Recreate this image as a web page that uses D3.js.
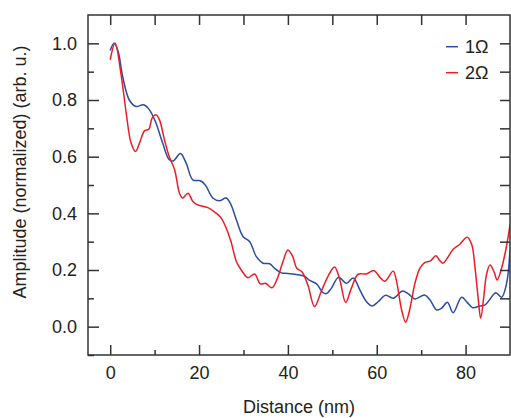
<!DOCTYPE html>
<html>
<head>
<meta charset="utf-8">
<script src="https://cdn.jsdelivr.net/npm/d3@7"></script>
<style>
  html, body { margin: 0; padding: 0; background: #fff; }
  svg { display: block; }
  text { font-family: "Liberation Sans", Arial, sans-serif; fill: #222; }
</style>
</head>
<body>
<svg id="chart" width="511" height="418"></svg>
<script>
// ---- data ----
const seriesNames = ["1Ω", "2Ω"];
const blueX = [0, 0.9, 1.8, 2.8, 4.3, 5.8, 7.5, 8.8, 10.3, 11.8, 13.3, 14.2, 15.8, 17.1, 18.6, 20.3, 21.4, 23.1, 24.6, 26.1, 27.2, 28.4, 29.9, 31.4, 32.9, 34.4, 35.9, 37, 38.5, 40, 42.6, 43.8, 44.9, 46.4, 47.9, 48.7, 49.8, 51.4, 53.2, 54.7, 56.2, 57.7, 59, 60.3, 62, 63.7, 65.8, 67.1, 68.6, 70.8, 72, 73.5, 74.6, 75.9, 77.2, 79.1, 80.4, 81.6, 83.2, 84.4, 85.5, 86.8, 88.1, 89.2, 90];
const blueY = [0.975, 1.0, 0.97, 0.883, 0.80, 0.777, 0.783, 0.766, 0.719, 0.648, 0.589, 0.585, 0.611, 0.577, 0.518, 0.515, 0.50, 0.454, 0.444, 0.454, 0.43, 0.377, 0.318, 0.30, 0.247, 0.224, 0.222, 0.206, 0.19, 0.188, 0.182, 0.177, 0.163, 0.152, 0.12, 0.117, 0.136, 0.174, 0.153, 0.172, 0.13, 0.088, 0.073, 0.088, 0.111, 0.100, 0.126, 0.116, 0.098, 0.112, 0.094, 0.059, 0.065, 0.086, 0.049, 0.104, 0.085, 0.067, 0.073, 0.077, 0.097, 0.12, 0.104, 0.15, 0.27];
const redX = [0, 1.1, 2.4, 3.6, 4.7, 5.7, 6.6, 7.7, 8.7, 9.4, 10.3, 11.1, 12.2, 13.3, 14.5, 15.6, 16.3, 17.5, 18.6, 19.7, 22, 23.9, 25, 26.1, 27.2, 28.4, 29.5, 31, 32.5, 33.8, 35, 36.4, 37.5, 38.9, 40, 41.1, 42, 43.2, 44.5, 46, 47.5, 49, 50.5, 51.7, 53, 54.3, 55.8, 57.7, 59.3, 60.7, 61.8, 63.7, 64.4, 65.6, 66.5, 67.4, 68.6, 69.7, 70.8, 72.1, 73.3, 74.2, 74.9, 76.1, 77.2, 78.7, 80.4, 81.4, 82.1, 82.8, 83.4, 84.1, 84.7, 85.5, 86.4, 87.1, 88.1, 89.2, 90];
const redY = [0.942, 1.0, 0.895, 0.754, 0.648, 0.618, 0.648, 0.691, 0.697, 0.735, 0.748, 0.73, 0.66, 0.60, 0.554, 0.471, 0.454, 0.471, 0.442, 0.43, 0.42, 0.40, 0.383, 0.348, 0.30, 0.23, 0.20, 0.173, 0.186, 0.151, 0.153, 0.137, 0.165, 0.23, 0.271, 0.247, 0.206, 0.193, 0.147, 0.071, 0.124, 0.177, 0.211, 0.165, 0.085, 0.136, 0.185, 0.186, 0.198, 0.175, 0.16, 0.196, 0.165, 0.059, 0.016, 0.059, 0.153, 0.206, 0.226, 0.232, 0.25, 0.233, 0.224, 0.247, 0.273, 0.291, 0.316, 0.289, 0.212, 0.106, 0.03, 0.106, 0.183, 0.218, 0.194, 0.165, 0.206, 0.283, 0.36];
const xMajorTicks = [0, 20, 40, 60, 80];
const xMinorTicks = [10, 30, 50, 70];
const xTopTicks = [0, 10, 20, 30, 40, 50, 60, 70, 80];
const yMajorTicks = [0.0, 0.2, 0.4, 0.6, 0.8, 1.0];
const yMinorTicks = [-0.1, 0.1, 0.3, 0.5, 0.7, 0.9];
const yRightTicks = [0.0, 0.1, 0.2, 0.3, 0.4, 0.5, 0.6, 0.7, 0.8, 0.9, 1.0];
const colors = ["#2b4ca3", "#ec1c24"];

// ---- layout ----
const L = 88, R = 510, T = 15, B = 355;
const svg = d3.select("#chart");
const x = d3.scaleLinear().domain([-5, 90]).range([L, R]);
const y = d3.scaleLinear().domain([-0.1, 1.1]).range([B, T]);

svg.append("defs").append("clipPath").attr("id", "clip")
  .append("rect").attr("x", L).attr("y", T).attr("width", R - L).attr("height", B - T);

const series = [
  blueX.map((d, i) => [d, blueY[i]]),
  redX.map((d, i) => [d, redY[i]])
];
const line = d3.line().x(d => x(d[0])).y(d => y(d[1])).curve(d3.curveCatmullRom.alpha(0.5));
const g = svg.append("g").attr("clip-path", "url(#clip)");
// draw red first? blue appears under red in places; draw blue then red
series.forEach((s, i) => {
  g.append("path").datum(s).attr("d", line)
    .attr("fill", "none").attr("stroke", colors[i]).attr("stroke-width", 1.5);
});

const axisColor = "#333";
function styleAxis(sel) {
  sel.select(".domain").remove();
  sel.selectAll(".tick line").attr("stroke", axisColor).attr("stroke-width", 1.5);
  sel.selectAll("text").style("font-size", "18px").style("font-family", '"Liberation Sans", Arial, sans-serif').attr("fill", "#222");
}
// bottom
svg.append("g").attr("transform", `translate(0,${B})`)
  .call(d3.axisBottom(x).tickValues(xMajorTicks).tickFormat(d3.format("d")).tickSizeInner(-10).tickSizeOuter(0).tickPadding(11))
  .call(styleAxis);
svg.append("g").attr("transform", `translate(0,${B})`)
  .call(d3.axisBottom(x).tickValues(xMinorTicks).tickFormat("").tickSizeInner(-5).tickSizeOuter(0))
  .call(styleAxis);
// top
svg.append("g").attr("transform", `translate(0,${T})`)
  .call(d3.axisTop(x).tickValues(xTopTicks).tickFormat("").tickSizeInner(-10).tickSizeOuter(0))
  .call(styleAxis);
// left
svg.append("g").attr("transform", `translate(${L},0)`)
  .call(d3.axisLeft(y).tickValues(yMajorTicks).tickFormat(d3.format(".1f")).tickSizeInner(-11).tickSizeOuter(0).tickPadding(11))
  .call(styleAxis);
svg.append("g").attr("transform", `translate(${L},0)`)
  .call(d3.axisLeft(y).tickValues(yMinorTicks).tickFormat("").tickSizeInner(-6).tickSizeOuter(0))
  .call(styleAxis);
// right
svg.append("g").attr("transform", `translate(${R},0)`)
  .call(d3.axisRight(y).tickValues(yRightTicks).tickFormat("").tickSizeInner(-10).tickSizeOuter(0))
  .call(styleAxis);

// frame
svg.append("rect").attr("x", L).attr("y", T).attr("width", R - L).attr("height", B - T)
  .attr("fill", "none").attr("stroke", axisColor).attr("stroke-width", 1.5);

// titles
svg.append("text").attr("x", (L + R) / 2).attr("y", 413).attr("text-anchor", "middle")
  .style("font-size", "18px").text("Distance (nm)");
svg.append("text").attr("transform", "translate(26,172) rotate(-90)").attr("text-anchor", "middle")
  .style("font-size", "18px").text("Amplitude (normalized) (arb. u.)");

// legend
const legY = [46.7, 72.7];
seriesNames.forEach((n, i) => {
  svg.append("line").attr("x1", 446).attr("x2", 458).attr("y1", legY[i]).attr("y2", legY[i])
    .attr("stroke", colors[i]).attr("stroke-width", 1.5);
  svg.append("text").attr("x", 465).attr("y", legY[i]).attr("dy", "0.35em")
    .style("font-size", "18px").text(n);
});
</script>
</body>
</html>
